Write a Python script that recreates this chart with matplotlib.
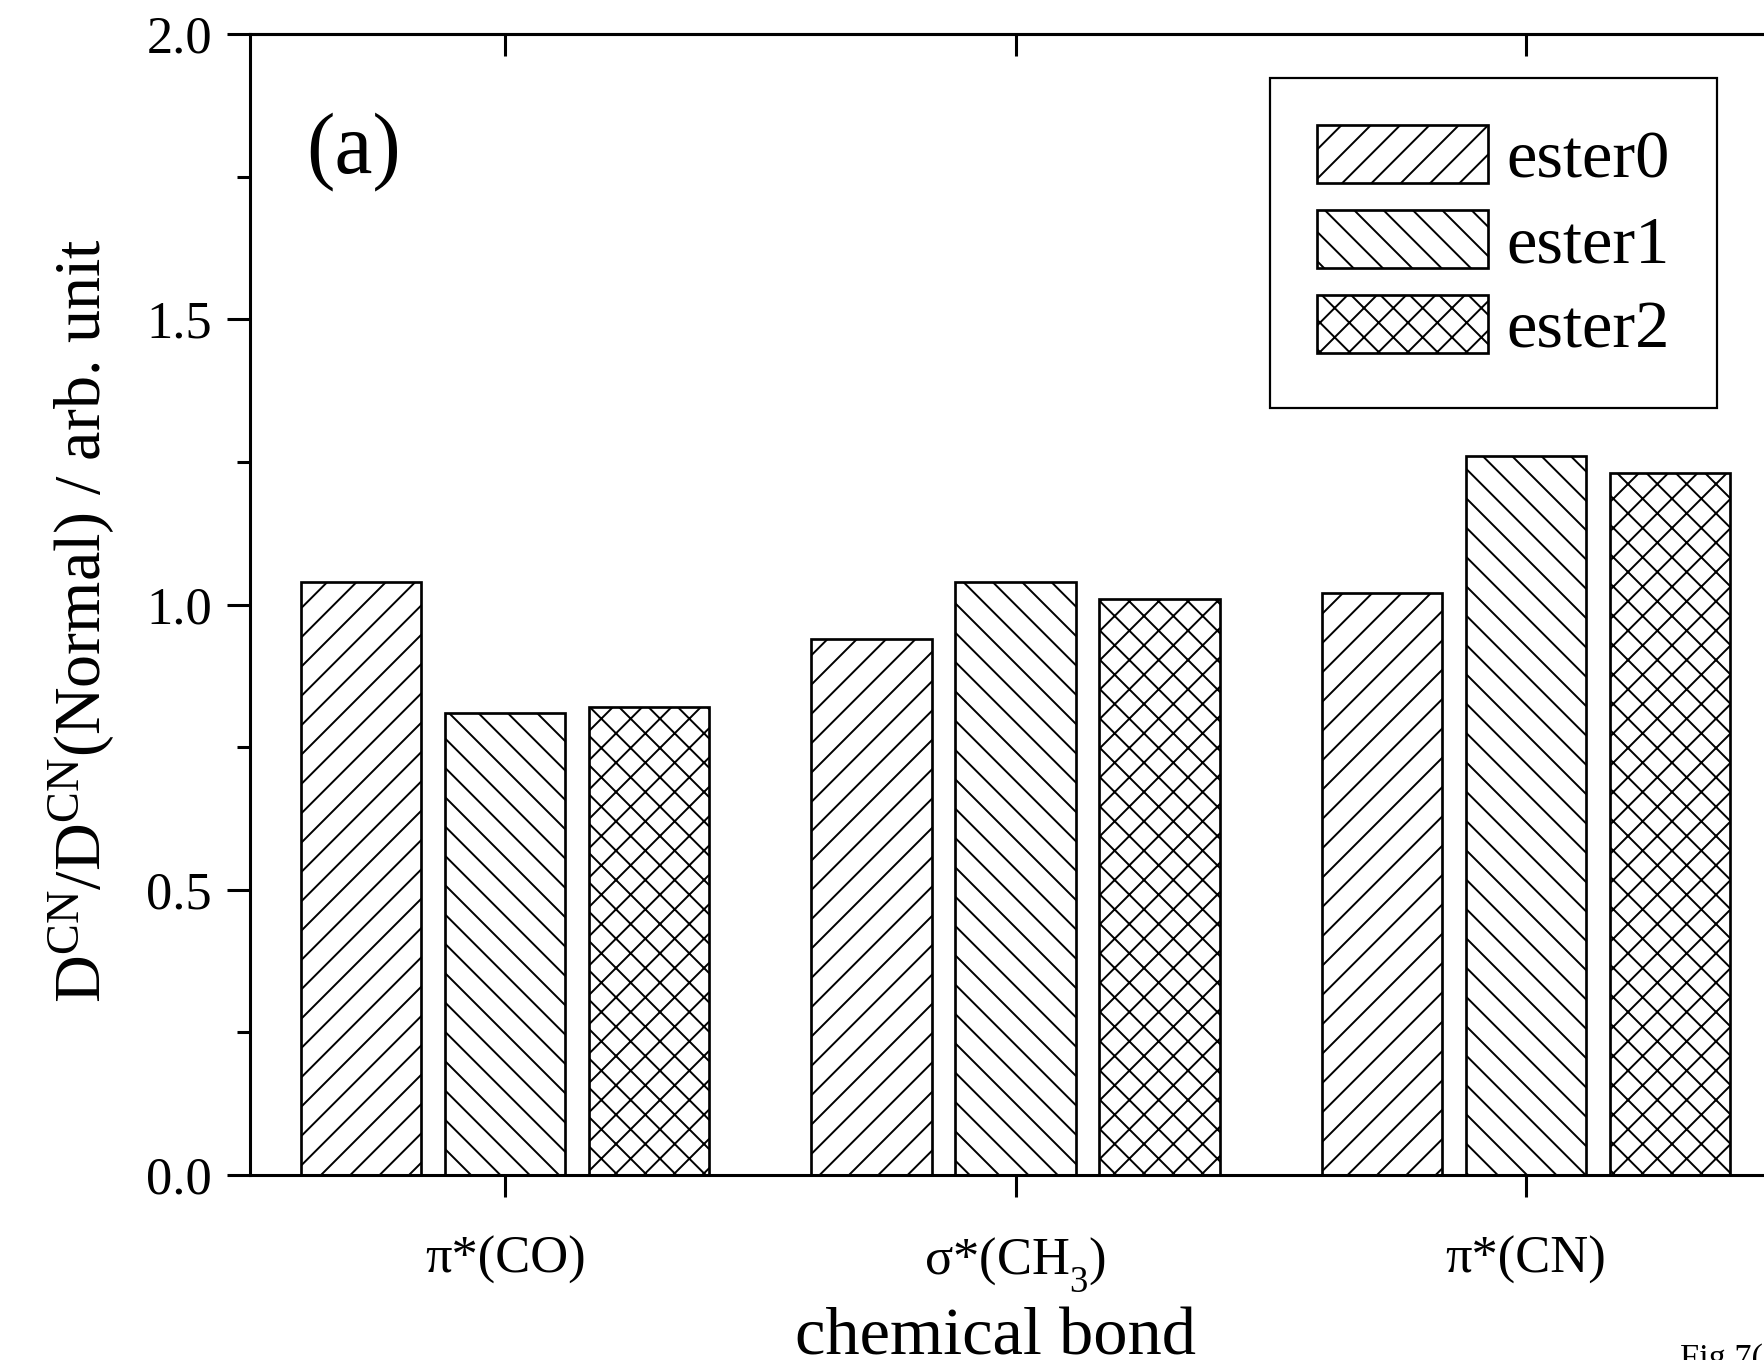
import matplotlib
matplotlib.use('Agg')
import matplotlib.pyplot as plt
from matplotlib.ticker import AutoMinorLocator, FormatStrFormatter
import numpy as np

# chart data
bonds = ['π*(CO)', 'σ*(CH$_3$)', 'π*(CN)']
series = ['ester0', 'ester1', 'ester2']
ester0 = [1.04, 0.94, 1.02]
ester1 = [0.81, 1.04, 1.26]
ester2 = [0.82, 1.01, 1.23]
hatches = ['/', '\\', 'x']

plt.rcParams['font.family'] = 'Liberation Serif'
plt.rcParams['mathtext.fontset'] = 'custom'
plt.rcParams['mathtext.rm'] = 'Liberation Serif'
plt.rcParams['mathtext.it'] = 'Liberation Serif:italic'
plt.rcParams['hatch.linewidth'] = 1.6

# the original sets its subscripts lower than mathtext does by default
try:
    from matplotlib import _mathtext
    _mathtext.FontConstantsBase.sub1 = 0.75
except Exception:
    pass

DPI = 88
W, H = 1764, 1360
fig = plt.figure(figsize=(W / DPI, H / DPI), dpi=DPI)
# axes run past the right edge of the picture (reference is cropped)
ax = fig.add_axes([250 / W, 1 - 1175 / H, 1531 / W, 1141 / H])

x = np.arange(1, len(bonds) + 1)
width = 0.236
offsets = [-0.282, 0.0, 0.282]
for vals, name, h, off in zip([ester0, ester1, ester2], series, hatches, offsets):
    ax.bar(x + off, vals, width=width, facecolor='white', edgecolor='black',
           hatch=h, linewidth=2.2, label=name)

ax.set_xlim(0.5, 3.5)
ax.set_ylim(0, 2)
ax.set_xticks(x, bonds)
ax.set_yticks([0, 0.5, 1.0, 1.5, 2.0])
ax.yaxis.set_major_formatter(FormatStrFormatter('%.1f'))
ax.yaxis.set_minor_locator(AutoMinorLocator(2))

ax.tick_params(axis='x', direction='out', length=18, width=2.5, labelsize=43,
               pad=32, top=False)
ax.tick_params(axis='y', which='major', direction='out', length=19, width=2.5,
               labelsize=43, pad=12, right=False)
ax.tick_params(axis='y', which='minor', direction='out', length=11, width=2.5,
               right=False)
for s in ax.spines.values():
    s.set_linewidth(2.5)

top = ax.secondary_xaxis('top')
top.set_xticks(x, labels=[])
top.tick_params(direction='in', length=18, width=2.5)
top.spines['top'].set_linewidth(2.5)

ax.set_xlabel('chemical bond', fontsize=56)
ax.xaxis.set_label_coords(0.487, -0.116)
ax.set_ylabel(r'D$^{\mathrm{CN}}$/D$^{\mathrm{CN}}$(Normal) / arb. unit', fontsize=54)
ax.yaxis.set_label_coords(-0.0875, 0.486)

ax.text(0.0366, 0.9316, '(a)', transform=ax.transAxes, fontsize=70,
        ha='left', va='top')

leg = ax.legend(loc='upper right', bbox_to_anchor=(0.958, 0.9614),
                borderaxespad=0, frameon=True, fancybox=False,
                edgecolor='black', framealpha=1, fontsize=56,
                handlelength=2.5, handleheight=0.93, handletextpad=0.28,
                labelspacing=0.27, borderpad=0.68)
leg.get_frame().set_linewidth(1.8)

fig.text(1680 / W, 1 - 1343 / H, 'Fig 7(a)', fontsize=28, ha='left', va='top')

fig.savefig('out.png', dpi=DPI)
